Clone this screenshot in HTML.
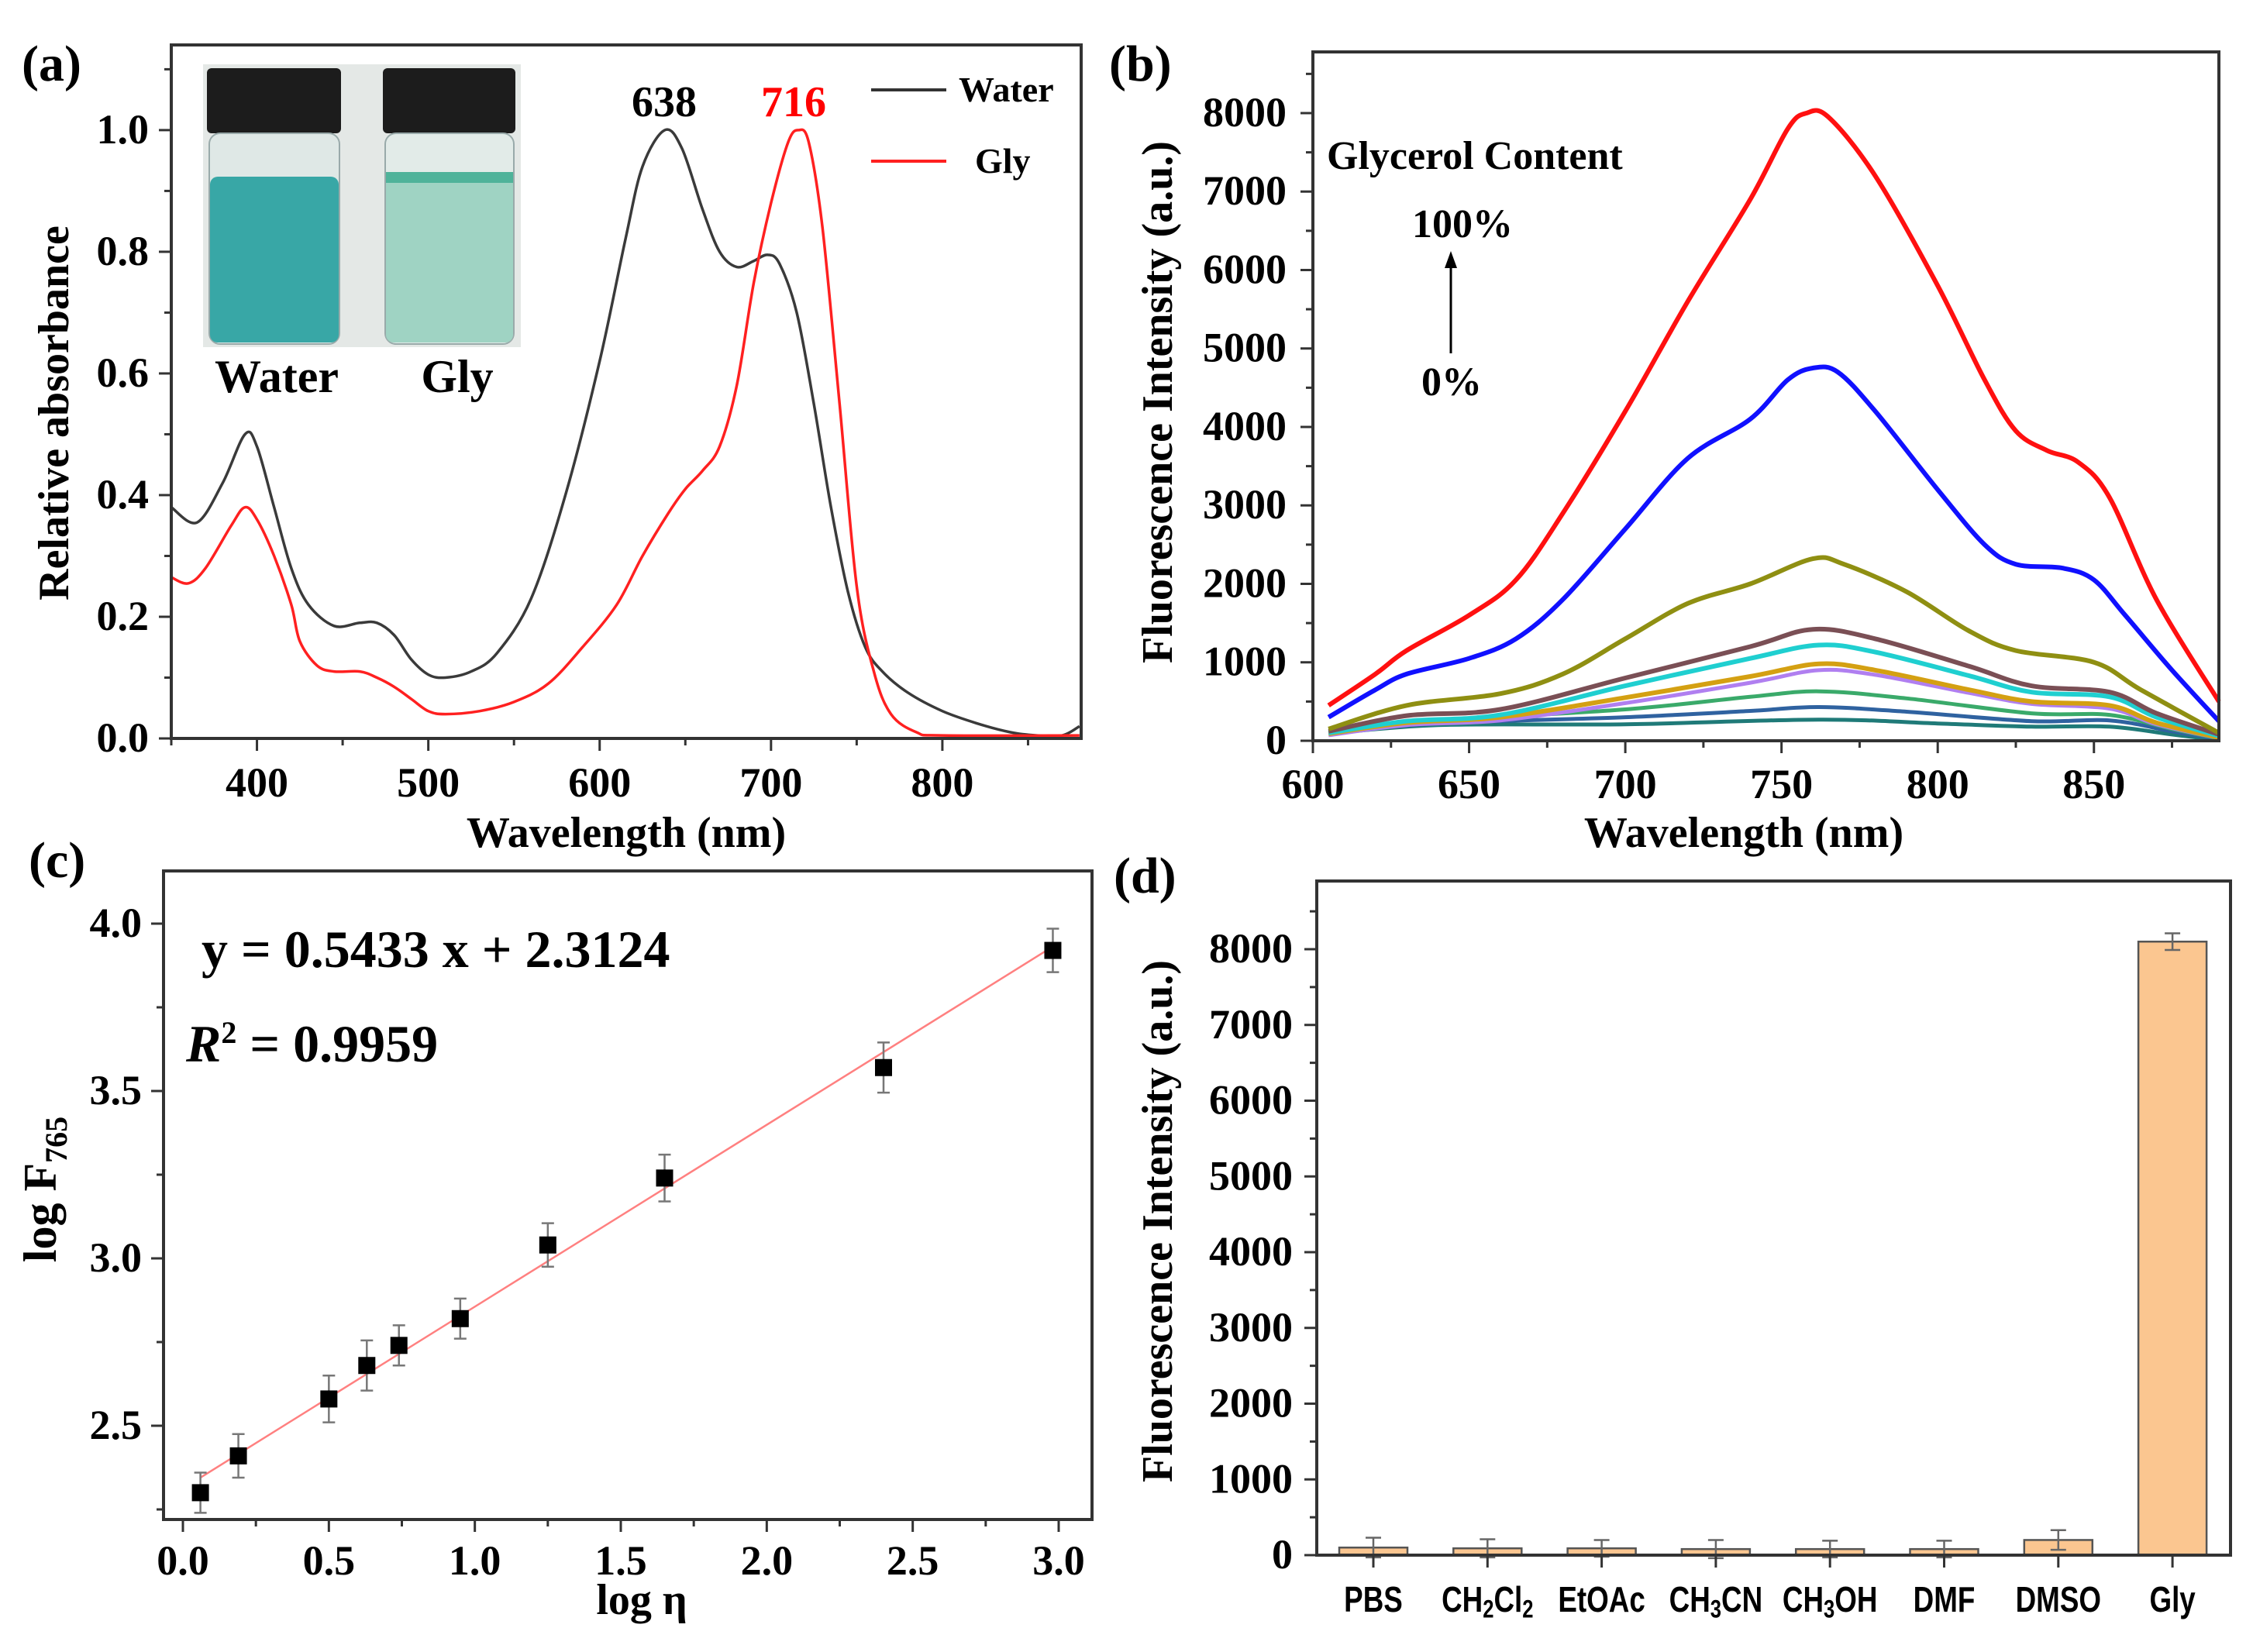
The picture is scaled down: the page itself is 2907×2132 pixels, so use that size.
<!DOCTYPE html>
<html><head><meta charset="utf-8"><style>
html,body{margin:0;padding:0;background:#fff;}
svg{display:block;font-family:"Liberation Serif",serif;font-weight:bold;}
</style></head><body>
<svg id="fig" width="2907" height="2132" viewBox="0 0 2907 2132" xmlns="http://www.w3.org/2000/svg">
<rect width="2907" height="2132" fill="#fff"/>
<text x="28" y="104" font-size="66">(a)</text>
<text x="1431" y="104" font-size="66">(b)</text>
<text x="37" y="1132" font-size="66">(c)</text>
<text x="1437" y="1152" font-size="66">(d)</text>

<g>
<rect x="262" y="83" width="410" height="365" fill="#e4e8e6"/>
<rect x="267" y="88" width="173" height="84" rx="6" fill="#1c1c1c"/>
<rect x="494" y="88" width="171" height="84" rx="6" fill="#1c1c1c"/>
<rect x="270" y="172" width="168" height="272" rx="14" fill="#dfe8e6" stroke="#9aa" stroke-width="2"/>
<rect x="497" y="172" width="166" height="272" rx="14" fill="#e2ebe8" stroke="#9aa" stroke-width="2"/>
<rect x="271" y="228" width="166" height="214" rx="10" fill="#38a7a6"/>
<rect x="498" y="222" width="164" height="220" rx="10" fill="#9fd3c3"/>
<rect x="498" y="222" width="164" height="14" fill="#4fb39a"/>
</g>
<text x="357" y="506" font-size="60" text-anchor="middle">Water</text>
<text x="590" y="506" font-size="60" text-anchor="middle">Gly</text>
<text x="857" y="150" font-size="56" text-anchor="middle">638</text>
<text x="1024" y="150" font-size="56" text-anchor="middle" fill="#ff0000">716</text>
<line x1="1124" y1="116" x2="1221" y2="116" stroke="#333" stroke-width="4"/>
<text x="1237" y="131" font-size="46">Water</text>
<line x1="1124" y1="208" x2="1221" y2="208" stroke="#ff2020" stroke-width="4"/>
<text x="1258" y="223" font-size="46">Gly</text>

<text x="1712" y="218" font-size="52">Glycerol Content</text>
<text x="1887" y="306" font-size="52" text-anchor="middle">100%</text>
<line x1="1872" y1="456" x2="1872" y2="340" stroke="#000" stroke-width="3"/>
<polygon points="1872,324 1864,346 1880,346" fill="#000"/>
<text x="1873" y="510" font-size="52" text-anchor="middle">0%</text>

<text x="260" y="1248" font-size="68">y = 0.5433 x + 2.3124</text>
<text x="240" y="1370" font-size="68"><tspan font-style="italic">R</tspan><tspan font-size="40" dy="-24">2</tspan><tspan dy="24"> = 0.9959</tspan></text>
</svg>
<script>
const aWaterX = [350,365,380,393,400,410,420,430,445,460,470,480,490,500,510,525,540,560,580,600,615,625,638,648,660,670,680,690,698,705,715,725,735,745,755,765,780,800,820,840,855,870,880];
const aWaterY = [0.38,0.355,0.42,0.50,0.48,0.38,0.28,0.22,0.185,0.19,0.19,0.17,0.13,0.105,0.10,0.11,0.14,0.23,0.40,0.62,0.82,0.94,1.00,0.97,0.87,0.80,0.775,0.785,0.795,0.78,0.70,0.55,0.38,0.24,0.15,0.11,0.075,0.045,0.025,0.01,0.005,0.005,0.02];
const aGlyX = [350,360,370,385,393,400,410,420,425,435,445,460,470,480,490,500,510,530,550,570,590,610,625,640,650,660,670,680,690,700,710,716,722,730,740,750,760,770,785,800,880];
const aGlyY = [0.265,0.255,0.28,0.35,0.38,0.36,0.30,0.22,0.16,0.12,0.11,0.11,0.10,0.085,0.065,0.045,0.04,0.045,0.06,0.09,0.15,0.22,0.30,0.37,0.41,0.44,0.48,0.58,0.75,0.88,0.98,1.0,0.98,0.84,0.55,0.25,0.11,0.04,0.01,0.005,0.005];
const aXTicks = [400,500,600,700,800];
const aYTicks = [0.0,0.2,0.4,0.6,0.8,1.0];

const bRedX = [605,620,630,650,665,680,700,720,740,752,758,765,780,800,815,825,835,845,855,870,890];
const bRedY = [450,850,1150,1600,2050,2900,4200,5600,6900,7800,8000,7950,7200,5800,4600,3950,3700,3550,3100,1800,500];
const bBlueX = [605,620,630,650,665,680,700,720,740,752,760,768,780,800,815,825,840,850,860,875,890];
const bBlueY = [300,650,850,1050,1300,1800,2700,3600,4100,4600,4750,4700,4200,3200,2500,2250,2200,2050,1600,900,250];
const bOliveX = [605,630,660,680,700,720,740,760,770,790,810,825,850,865,890];
const bOliveY = [150,450,600,850,1300,1750,2000,2320,2250,1900,1400,1150,1000,650,100];
const bBrownX = [605,630,660,700,740,760,780,810,830,855,870,890];
const bBrownY = [120,320,400,800,1200,1420,1300,950,700,620,350,80];
const bCyanX = [605,630,660,700,740,762,780,810,830,855,870,890];
const bCyanY = [100,250,330,700,1050,1220,1130,830,620,560,300,60];
const bOrangeX = [605,630,660,700,740,762,780,810,830,855,870,890];
const bOrangeY = [90,230,300,550,820,980,900,650,500,450,230,40];
const bPurpleX = [605,630,660,700,740,762,780,810,830,855,870,890];
const bPurpleY = [70,200,260,480,740,900,840,610,470,410,210,35];
const bGreenX = [605,640,700,740,762,790,830,855,875,890];
const bGreenY = [100,250,400,560,630,540,350,330,150,30];
const bSteelX = [605,640,700,740,762,790,830,855,875,890];
const bSteelY = [100,220,300,380,430,370,250,260,120,20];
const bTealX = [605,640,700,762,800,830,855,875,890];
const bTealY = [90,200,210,270,220,180,180,80,10];
const bXTicks = [600,650,700,750,800,850];
const bYTicks = [0,1000,2000,3000,4000,5000,6000,7000,8000];

const cX = [0.06,0.19,0.50,0.63,0.74,0.95,1.25,1.65,2.40,2.98];
const cY = [2.30,2.41,2.58,2.68,2.74,2.82,3.04,3.24,3.57,3.92];
const cErr = [0.06,0.065,0.07,0.075,0.06,0.06,0.065,0.07,0.075,0.065];
const cSlope = 0.5433;
const cIntercept = 2.3124;
const cXTicks = [0.0,0.5,1.0,1.5,2.0,2.5,3.0];
const cYTicks = [2.5,3.0,3.5,4.0];

const dCats = ["PBS","CH2Cl2","EtOAc","CH3CN","CH3OH","DMF","DMSO","Gly"];
const dVals = [100,90,90,80,80,80,200,8100];
const dErrs = [130,120,110,120,110,110,130,110];
const dYTicks = [0,1000,2000,3000,4000,5000,6000,7000,8000];

const NS = "http://www.w3.org/2000/svg";
const svg = document.getElementById("fig");
function mk(tag, attrs, parent) {
  const el = document.createElementNS(NS, tag);
  for (const k in attrs) el.setAttribute(k, attrs[k]);
  (parent || svg).appendChild(el);
  return el;
}
function lin(d0, d1, p0, p1) { return v => p0 + (v - d0) * (p1 - p0) / (d1 - d0); }
function smoothPath(xs, ys, sx, sy) {
  const P = xs.map((x, i) => [sx(x), sy(ys[i])]);
  let d = "M" + P[0][0].toFixed(1) + "," + P[0][1].toFixed(1);
  for (let i = 0; i < P.length - 1; i++) {
    const p0 = P[Math.max(0, i - 1)], p1 = P[i], p2 = P[i + 1], p3 = P[Math.min(P.length - 1, i + 2)];
    const c1x = p1[0] + (p2[0] - p0[0]) / 6, c1y = p1[1] + (p2[1] - p0[1]) / 6;
    const c2x = p2[0] - (p3[0] - p1[0]) / 6, c2y = p2[1] - (p3[1] - p1[1]) / 6;
    d += "C" + c1x.toFixed(1) + "," + c1y.toFixed(1) + " " + c2x.toFixed(1) + "," + c2y.toFixed(1) + " " + p2[0].toFixed(1) + "," + p2[1].toFixed(1);
  }
  return d;
}
function frame(l, t, r, b, name) {
  const f = mk("rect", {x:l, y:t, width:r-l, height:b-t, fill:"none", stroke:"#333", "stroke-width":4});
  
  
}
function xTicks(ticks, sx, b, minorStep, lo, hi, fmt, labelY, size, name) {
  for (let v = lo; v <= hi + 1e-9; v += minorStep) {
    const isMajor = ticks.some(t => Math.abs(t - v) < 1e-6);
    const tk = mk("line", {x1:sx(v), x2:sx(v), y1:b, y2:b + (isMajor ? 16 : 9), stroke:"#333", "stroke-width":3});
    
    
  }
  ticks.forEach(v => {
    const t = mk("text", {x:sx(v), y:labelY, "font-size":size, "text-anchor":"middle"});
    t.textContent = fmt(v);
    
    
  });
}
function yTicks(ticks, sy, l, minorStep, lo, hi, fmt, labelX, size, name) {
  for (let v = lo; v <= hi + 1e-9; v += minorStep) {
    const isMajor = ticks.some(t => Math.abs(t - v) < 1e-6);
    const tk = mk("line", {x1:l, x2:l - (isMajor ? 16 : 9), y1:sy(v), y2:sy(v), stroke:"#333", "stroke-width":3});
    
    
  }
  ticks.forEach(v => {
    const t = mk("text", {x:labelX, y:sy(v) + 17, "font-size":size, "text-anchor":"end"});
    t.textContent = fmt(v);
    
    
  });
}
function title(x, y, txt, rot, name, size) {
  const t = mk("text", {x:x, y:y, "font-size":size || 56, "text-anchor":"middle", transform: rot ? "rotate(-90 " + x + " " + y + ")" : ""});
  t.textContent = txt;
  
  
  return t;
}

// Panel (a)
{
  const L=221,R=1395,T=58,B=953;
  const sx = lin(350, 881, L, R), sy = lin(0, 1.14, B, T);
  const cp = mk("clipPath", {id:"clipA"}); mk("rect", {x:L, y:T, width:R-L, height:B-T}, cp);
  const g = mk("g", {"clip-path":"url(#clipA)"});
  
  
  const w = mk("path", {d:smoothPath(aWaterX, aWaterY, sx, sy), fill:"none", stroke:"#3a3a3a", "stroke-width":3.5}, g);
  
  
  const r = mk("path", {d:smoothPath(aGlyX, aGlyY, sx, sy), fill:"none", stroke:"#ff2020", "stroke-width":3.5}, g);
  
  
  frame(L, T, R, B, 'panel-a-frame');
  xTicks(aXTicks, sx, B, 50, 350, 880, v => String(v), 1028, 54, 'panel-a');
  yTicks(aYTicks, sy, L, 0.1, 0, 1.1, v => v.toFixed(1), 192, 54, 'panel-a');
  title(808, 1093, "Wavelength (nm)", false, 'panel-a-x-axis-title');
  title(88, 533, "Relative absorbance", true, 'panel-a-y-axis-title');
}

// Panel (b)
{
  const L=1694,R=2863,T=67,B=956;
  const sx = lin(600, 890, L, R), sy = lin(0, 8780, B, T);
  const series = [
    [bTealX,bTealY,"#1f7a78",5,'teal'],[bSteelX,bSteelY,"#2f62a0",5,'steelblue'],[bGreenX,bGreenY,"#3aaa6a",5,'green'],
    [bPurpleX,bPurpleY,"#b07ff0",5,'purple'],[bOrangeX,bOrangeY,"#d4a012",6,'orange'],[bCyanX,bCyanY,"#1fcfd0",6,'cyan'],
    [bBrownX,bBrownY,"#7a4f55",6,'brown'],[bOliveX,bOliveY,"#8f8f12",6,'olive'],[bBlueX,bBlueY,"#1010ff",6,'blue'],[bRedX,bRedY,"#ff1010",6,'red']];
  series.forEach(s => {
    const p = mk("path", {d:smoothPath(s[0], s[1], sx, sy), fill:"none", stroke:s[2], "stroke-width":s[3], "stroke-linejoin":"round"});
    
    
  });
  frame(L, T, R, B, 'panel-b-frame');
  xTicks(bXTicks, sx, B, 25, 600, 875, v => String(v), 1030, 54, 'panel-b');
  yTicks(bYTicks, sy, L, 500, 0, 8500, v => String(v), 1660, 54, 'panel-b');
  title(2250, 1093, "Wavelength (nm)", false, 'panel-b-x-axis-title');
  title(1512, 519, "Fluorescence Intensity (a.u.)", true, 'panel-b-y-axis-title');
}

// Panel (c)
{
  const L=211,R=1409,T=1124,B=1961;
  const sx = lin(0, 3, 236, 1366), sy = lin(2.5, 4.0, 1840, 1192);
  const x0 = cX[0], x1 = cX[cX.length-1];
  const fl = mk("line", {x1:sx(x0), y1:sy(cSlope*x0+cIntercept), x2:sx(x1), y2:sy(cSlope*x1+cIntercept), stroke:"#ff8080", "stroke-width":2.5});
  
  
  cX.forEach((x, i) => {
    const eb = mk("path", {d:"M"+sx(x)+","+sy(cY[i]-cErr[i])+"V"+sy(cY[i]+cErr[i])+"M"+(sx(x)-8)+","+sy(cY[i]-cErr[i])+"h16M"+(sx(x)-8)+","+sy(cY[i]+cErr[i])+"h16", stroke:"#777", "stroke-width":2.5, fill:"none"});
    
    
    const pt = mk("rect", {x:sx(x)-11, y:sy(cY[i])-11, width:22, height:22, fill:"#000"});
    
    
  });
  frame(L, T, R, B, 'panel-c-frame');
  xTicks(cXTicks, sx, B, 0.25, 0, 3.0, v => v.toFixed(1), 2032, 54, 'panel-c');
  yTicks(cYTicks, sy, L, 0.25, 2.25, 4.0, v => v.toFixed(1), 183, 54, 'panel-c');
  title(828, 2083, "log η", false, 'panel-c-x-axis-title');
  const yt = mk("text", {x:72, y:1535, "font-size":60, "text-anchor":"middle", transform:"rotate(-90 72 1535)"});
  
  
  const t1 = mk("tspan", {}, yt); t1.textContent = "log F";
  const t2 = mk("tspan", {"font-size":40, dy:14}, yt); t2.textContent = "765";
}

// Panel (d)
{
  const L=1699,R=2878,T=1137,B=2007;
  const sy = lin(0, 8000, B, 1225);
  const cx = i => 1772 + i * 147.3;
  const bw = 88;
  dVals.forEach((v, i) => {
    const bar = mk("rect", {x:cx(i)-bw/2, y:sy(v), width:bw, height:B - sy(v), fill:"#fbc690", stroke:"#555", "stroke-width":2.5});
    
    
    const e = dErrs[i];
    const eb = mk("path", {d:"M"+cx(i)+","+sy(v-e)+"V"+sy(v+e)+"M"+(cx(i)-10)+","+sy(v-e)+"h20M"+(cx(i)-10)+","+sy(v+e)+"h20", stroke:"#666", "stroke-width":2.5, fill:"none"});
    
    
    const tk = mk("line", {x1:cx(i), x2:cx(i), y1:B, y2:B+16, stroke:"#333", "stroke-width":3});
    
    
    const lb = mk("text", {x:0, y:0, "font-size":46, "text-anchor":"middle", "font-family":"Liberation Sans, sans-serif", "font-weight":"bold", transform:"translate(" + cx(i) + ",2080) scale(0.8,1)"});
    
    
    const parts = dCats[i].split(/(\d)/).filter(s => s.length);
    parts.forEach(p => {
      const ts = mk("tspan", /\d/.test(p) ? {"font-size":32, "baseline-shift":"-25%"} : {}, lb);
      ts.textContent = p;
    });
  });
  frame(L, T, R, B, 'panel-d-frame');
  yTicks(dYTicks, sy, L, 500, 0, 8500, v => String(v), 1668, 54, 'panel-d');
  title(1512, 1576, "Fluorescence Intensity (a.u.)", true, 'panel-d-y-axis-title');
}
</script>
</body></html>
